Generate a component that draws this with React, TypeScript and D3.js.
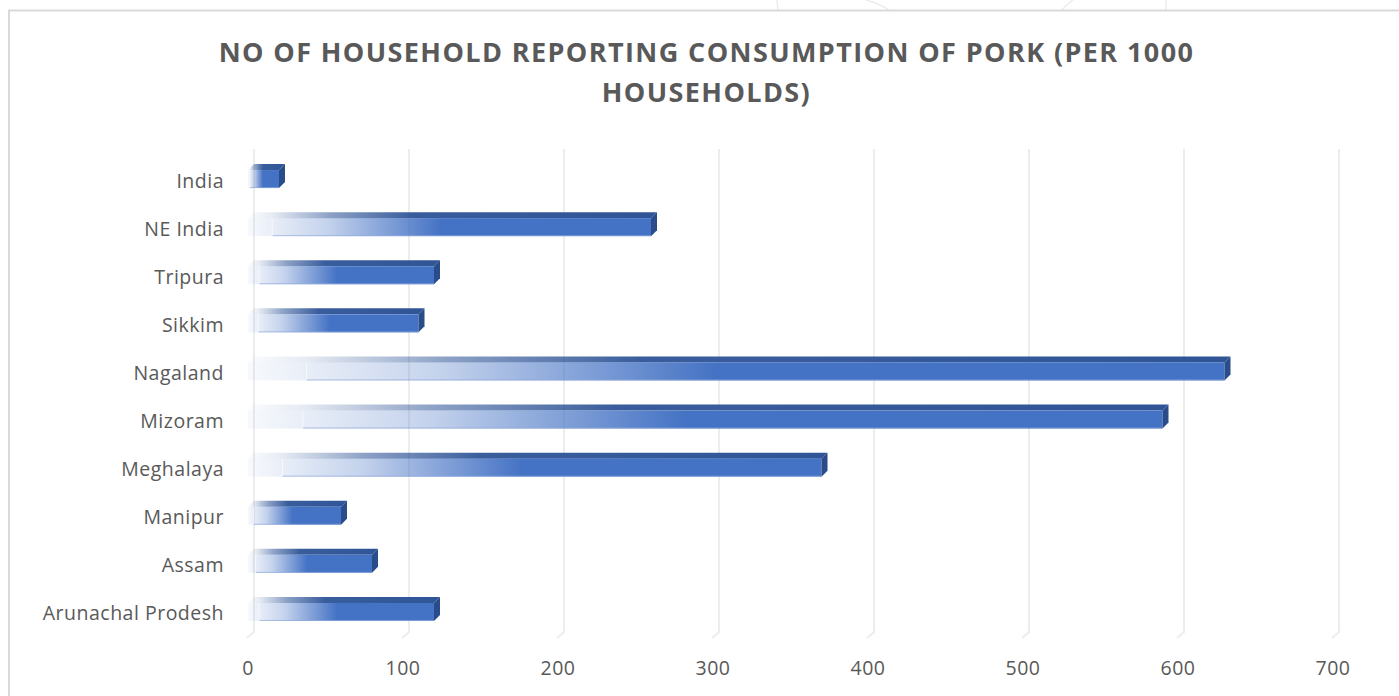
import React from "react";
import * as d3 from "d3";

// Households reporting consumption of pork, per 1000 households
const categories = [
  "Arunachal Prodesh",
  "Assam",
  "Manipur",
  "Meghalaya",
  "Mizoram",
  "Nagaland",
  "Sikkim",
  "Tripura",
  "NE India",
  "India",
];
const values = [120, 80, 60, 370, 590, 630, 110, 120, 260, 20];
const xTicks = [0, 100, 200, 300, 400, 500, 600, 700];
const titleLines = [
  "NO OF HOUSEHOLD REPORTING CONSUMPTION OF PORK (PER 1000",
  "HOUSEHOLDS)",
];

const W = 1399;
const H = 696;
const FONT = "'Open Sans', 'Noto Sans', sans-serif";
const TEXT = "#595959";
const BLUE = "#4472C4";
const TOP = "#2F5597";
const SIDE = "#2B4C8A";

// 3-D depth offset of the back wall relative to the front plane
const DX = 6;
const DY = 6;
const BAR_H = 18;

export default function App() {
  const x = d3.scaleLinear().domain([0, 700]).range([248, 1333]);
  // Categories are drawn bottom-up, so reverse for the top-down band scale
  const y = d3
    .scaleBand<string>()
    .domain([...categories].reverse())
    .range([155, 636])
    .padding(0);

  const gridTop = 149;
  const gridBottom = 632;

  return (
    <svg
      width={W}
      height={H}
      viewBox={`0 0 ${W} ${H}`}
      style={{ position: "absolute", left: 0, top: 0, background: "#fff" }}
    >
      <defs>
        <linearGradient id="frontGrad" x1="0" y1="0" x2="1" y2="0">
          <stop offset="0" stopColor={BLUE} stopOpacity={0.04} />
          <stop offset="0.06" stopColor={BLUE} stopOpacity={0.12} />
          <stop offset="0.06" stopColor={BLUE} stopOpacity={0.12} />
          <stop offset="0.2" stopColor={BLUE} stopOpacity={0.32} />
          <stop offset="0.48" stopColor={BLUE} stopOpacity={1} />
          <stop offset="1" stopColor={BLUE} stopOpacity={1} />
        </linearGradient>
        <linearGradient id="topGrad" x1="0" y1="0" x2="1" y2="0">
          <stop offset="0" stopColor={TOP} stopOpacity={0.02} />
          <stop offset="0.06" stopColor={TOP} stopOpacity={0.12} />
          <stop offset="0.2" stopColor={TOP} stopOpacity={0.55} />
          <stop offset="0.4" stopColor={TOP} stopOpacity={0.95} />
          <stop offset="1" stopColor={TOP} stopOpacity={1} />
        </linearGradient>
      </defs>

      {/* faint background strokes above the chart frame */}
      <g fill="none" stroke="#ececec" strokeWidth={1.5}>
        <path d="M777,0 L778,10" />
        <path d="M866,0 Q880,4 889,10" />
        <path d="M1073,0 Q1066,5 1062,10" />
        <path d="M1166,0 L1166,10" />
      </g>

      {/* chart frame */}
      <line x1={8} y1={10.5} x2={W} y2={10.5} stroke="#d9d9d9" strokeWidth={2} />
      <line x1={9} y1={10} x2={9} y2={H} stroke="#d9d9d9" strokeWidth={2} />

      {/* title */}
      {titleLines.map((t, i) => (
        <text
          key={t}
          x={706.5}
          y={62 + i * 40}
          textAnchor="middle"
          fontFamily={FONT}
          fontWeight={700}
          fontSize={27}
          letterSpacing={1.4}
          fill={TEXT}
        >
          {t}
        </text>
      ))}

      {/* gridlines on the back wall, bending onto the floor */}
      <g fill="none" stroke="#ededed" strokeWidth={2}>
        {xTicks.map((t) => (
          <path
            key={t}
            d={`M${x(t) + DX},${gridTop} L${x(t) + DX},${gridBottom} L${x(t) - 1},${gridBottom + DY}`}
          />
        ))}
      </g>

      {/* bars */}
      {categories.map((c, i) => {
        const v = values[i];
        const x0 = x(0);
        const x1 = x(v);
        const cy = (y(c) as number) + y.bandwidth() / 2;
        const top = cy - BAR_H / 2;
        const bot = cy + BAR_H / 2;
        const w = x1 - x0;
        return (
          <g key={c}>
            <path
              d={`M${x0},${top} L${x1},${top} L${x1 + DX},${top - DY} L${x0 + DX},${top - DY} Z`}
              fill="url(#topGrad)"
            />
            <rect x={x0} y={top} width={w} height={BAR_H} fill="url(#frontGrad)" />
            <line
              x1={x0 + w * 0.06}
              x2={x1}
              y1={bot - 0.5}
              y2={bot - 0.5}
              stroke="#8FAADC"
              strokeOpacity={0.7}
              strokeWidth={1}
            />
            <line
              x1={x0 + w * 0.06}
              x2={x0 + w * 0.06}
              y1={top}
              y2={bot}
              stroke="#ffffff"
              strokeOpacity={0.6}
              strokeWidth={1}
            />
            <path
              d={`M${x1},${top} L${x1 + DX},${top - DY} L${x1 + DX},${bot - DY} L${x1},${bot} Z`}
              fill={SIDE}
            />
          </g>
        );
      })}

      {/* category labels */}
      {categories.map((c) => (
        <text
          key={c}
          x={224}
          y={(y(c) as number) + y.bandwidth() / 2 + 1}
          textAnchor="end"
          dominantBaseline="central"
          fontFamily={FONT}
          fontSize={19.5}
          letterSpacing={0.5}
          fill={TEXT}
        >
          {c}
        </text>
      ))}

      {/* value axis labels */}
      {xTicks.map((t) => (
        <text
          key={t}
          x={x(t)}
          y={667}
          textAnchor="middle"
          dominantBaseline="central"
          fontFamily={FONT}
          fontSize={19.5}
          letterSpacing={0.5}
          fill={TEXT}
        >
          {t}
        </text>
      ))}
    </svg>
  );
}
